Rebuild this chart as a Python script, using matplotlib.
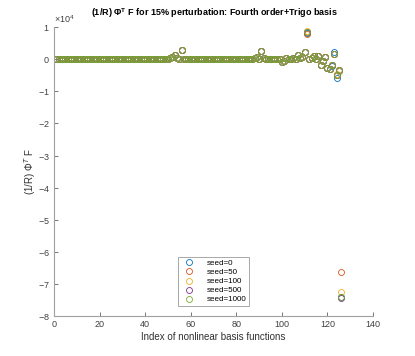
import numpy as np
import matplotlib
matplotlib.use("Agg")
import matplotlib.pyplot as plt
from matplotlib.ticker import ScalarFormatter

plt.rcParams['font.family'] = ['Liberation Sans', 'DejaVu Sans']
plt.rcParams['mathtext.fontset'] = 'custom'
plt.rcParams['mathtext.rm'] = 'Liberation Sans'
plt.rcParams['mathtext.bf'] = 'Liberation Sans:bold'

# Base values (x 1e4) for indices 1..126 (seed=1000 curve)
base = [0.0] * 126
overrides = {
    46: 0.02, 49: 0.01, 51: 0.03, 52: 0.08, 53: 0.12, 54: 0.05, 56: 0.28, 57: 0.02,
    66: 0.01, 74: 0.01, 85: 0.02, 88: 0.05, 89: 0.06, 90: 0.02, 91: 0.26, 92: 0.03,
    95: 0.02, 98: 0.01, 100: -0.08, 101: -0.05, 102: 0.05, 104: 0.02, 105: 0.03,
    107: 0.12, 108: 0.05, 109: 0.07, 110: 0.23, 111: 0.85, 112: 0.0, 113: 0.05,
    114: 0.1, 115: 0.02, 116: 0.1, 117: -0.17, 118: -0.05, 119: 0.08, 120: -0.29,
    121: -0.31, 122: -0.19, 123: 0.17, 124: -0.48, 125: -0.35, 126: -7.42,
}
for k, v in overrides.items():
    base[k - 1] = v

seed_labels = ['seed=0', 'seed=50', 'seed=100', 'seed=500', 'seed=1000']
# per-seed deviations from base at the tail indices
seed_changes = {
    'seed=0':    {111: 0.83, 122: -0.2, 123: 0.21, 124: -0.58, 125: -0.38, 126: -7.42},
    'seed=50':   {111: 0.79, 122: -0.18, 123: 0.15, 124: -0.5, 125: -0.33, 126: -6.64},
    'seed=100':  {111: 0.88, 123: 0.16, 124: -0.45, 125: -0.36, 126: -7.25},
    'seed=500':  {111: 0.84, 124: -0.5, 126: -7.44},
    'seed=1000': {},
}
colors = ['#0072BD', '#D95319', '#EDB120', '#7E2F8E', '#77AC30']

idx = np.arange(1, 127)

fig = plt.figure(figsize=(4.15, 3.56), dpi=100)
ax = fig.add_axes([0.130, 0.112, 0.769, 0.812])

for lab, col in zip(seed_labels, colors):
    vals = list(base)
    for k, v in seed_changes[lab].items():
        vals[k - 1] = v
    vals = np.array(vals) * 1e4
    ax.plot(idx, vals, linestyle='none', marker='o', markersize=4.3,
            markerfacecolor='none', markeredgecolor=col, markeredgewidth=0.6,
            label=lab)

ax.set_xlim(0, 140)
ax.set_ylim(-8e4, 1e4)
ax.set_xticks(np.arange(0, 141, 20))
ax.set_yticks(np.arange(-8, 2, 1) * 1e4)
fmt = ScalarFormatter(useMathText=True)
fmt.set_powerlimits((0, 0))
ax.yaxis.set_major_formatter(fmt)

for s in ['top', 'right']:
    ax.spines[s].set_visible(False)
for s in ['left', 'bottom']:
    ax.spines[s].set_color('#a0a0a0')
    ax.spines[s].set_linewidth(0.8)
ax.tick_params(direction='in', length=3, width=0.6, color='#606060',
               labelsize=6.5, labelcolor='#404040', pad=3)
ax.yaxis.get_offset_text().set_fontsize(6.5)
ax.yaxis.get_offset_text().set_color('#404040')

fig.text(0.518, 1 - 16.5 / 356,
         r'(1/R) $\mathbf{\Phi}^{\mathbf{T}}$ F for 15% perturbation: Fourth order+Trigo basis',
         fontsize=6.5, fontweight='bold', ha='center', va='baseline')
ax.set_xlabel('Index of nonlinear basis functions', fontsize=7, color='#303030', labelpad=2)
ax.set_ylabel(r'(1/R) $\Phi^{T}$ F', fontsize=7, color='#303030')
ax.yaxis.set_label_coords(-0.05, 0.5)

leg = ax.legend(loc='lower center', bbox_to_anchor=(0.5, 0.02), fontsize=5.8,
                frameon=True, fancybox=False, edgecolor='#808080',
                handletextpad=1.2, borderpad=0.35, labelspacing=0.18,
                handlelength=2.0)
leg.get_frame().set_linewidth(0.6)

fig.savefig('out.png', dpi=100)
